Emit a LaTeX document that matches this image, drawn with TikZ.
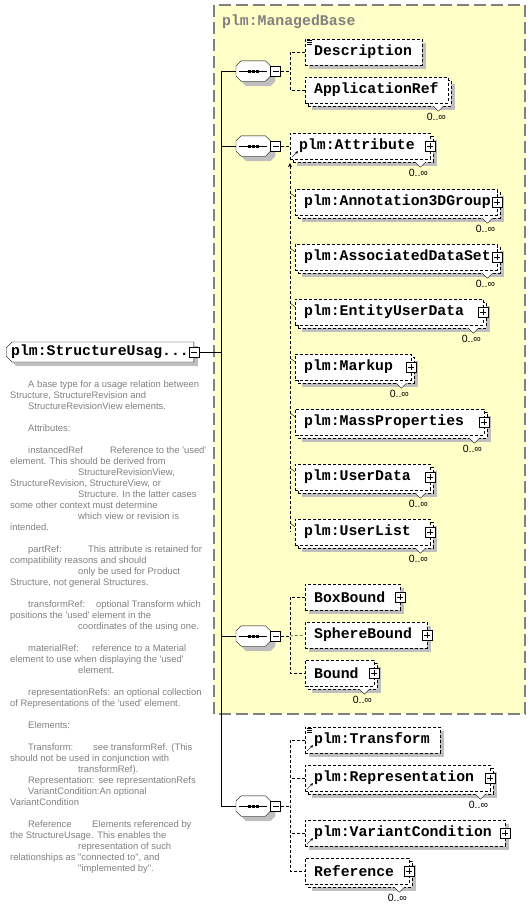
\documentclass[tikz,border=0pt]{standalone}
\usepackage{fontspec}
\newfontfamily\docfont{Liberation Sans}
\newfontfamily\lblfont{Liberation Mono}
\usetikzlibrary{positioning, shapes.misc, shadows, arrows.meta}

\definecolor{basefill}{RGB}{255,255,200}
\definecolor{docgray}{RGB}{128,128,128}

\tikzset{
  lbl/.style={font=\lblfont\bfseries\fontsize{14.8}{16}\selectfont},
  occ/.style={font=\docfont\fontsize{10.5}{12}\selectfont, inner sep=0},
  conn/.style={dash pattern=on 3pt off 2pt},
  basebox/.style={draw=docgray, fill=basefill, line width=1.2pt, dash pattern=on 12pt off 5pt},
  shade4/.style={drop shadow={shadow xshift=#1, shadow yshift=-#1, fill=gray!50, opacity=1}},
  elem/.style={lbl, draw, fill=white, dash pattern=on 3pt off 2pt, minimum width=#1, minimum height=26,
    text width=#1-18, align=left, inner xsep=9, inner ysep=0, anchor=west, shade4=4pt},
  multi/.style={lbl, draw, fill=white, dash pattern=on 3pt off 2pt, minimum width=#1, minimum height=26,
    text width=#1-18, align=left, inner xsep=9, inner ysep=0, anchor=west, shade4=7pt,
    general shadow={shadow xshift=3pt, shadow yshift=-3pt, fill=white, draw=black, dash pattern=on 3pt off 2pt}},
  pmbox/.style={draw, solid, fill=white, minimum size=10, inner sep=0},
  minusbox/.style={pmbox, path picture={
    \draw ([xshift=2pt]path picture bounding box.west) -- ([xshift=-2pt]path picture bounding box.east);}},
  plusbox/.style={pmbox, path picture={
    \draw ([xshift=2pt]path picture bounding box.west) -- ([xshift=-2pt]path picture bounding box.east)
          ([yshift=-2pt]path picture bounding box.north) -- ([yshift=2pt]path picture bounding box.south);}},
  seq/.style={rectangle, minimum width=34, minimum height=20, inner sep=0, anchor=west},
  refarr/.style={solid, -{Stealth[length=3pt,width=3pt]}}
}

\begin{document}
\begin{tikzpicture}[x=1pt, y=-1pt]
\useasboundingbox (0,0) rectangle (530,906);

% frame of the base type
\draw[basebox] (214,5) rectangle (525,714);
\node[lbl, text=docgray, anchor=base west, inner sep=0] (mbase) at (222,25) {plm:ManagedBase};

% the complex type itself
\node[lbl, chamfered rectangle, chamfered rectangle corners={north west, south west}, chamfered rectangle sep=3pt,
      draw, fill=white, anchor=west, minimum height=20, inner xsep=2, inner ysep=0, shade4=4pt]
      (main) at (6,352) {plm:StructureUsag...\hspace{10pt}};
\node[minusbox] (main-m) at (main.east) {};

% sequences
\node[seq] (s1) at (236,71) {};
\node[seq] (s2) at (236,146) {};
\node[seq] (s3) at (236,636) {};
\node[seq] (s4) at (236,806) {};
\foreach \s in {s1,s2,s3,s4} {
  \draw[fill=white, shade4=5pt] ([xshift=5pt]\s.north west) -- ([xshift=-5pt]\s.north east)
    -- ([yshift=-5pt]\s.north east) -- ([yshift=5pt]\s.south east) -- ([xshift=-5pt]\s.south east)
    -- ([xshift=5pt]\s.south west) -- ([yshift=5pt]\s.south west) -- ([yshift=-5pt]\s.north west) -- cycle;
  \node[minusbox, anchor=west] (\s-m) at (\s.east) {};
  \draw ([xshift=3pt]\s.west) -- ([xshift=-3pt]\s.east);
  \foreach \d in {-4,0,4}
    \fill ([xshift=\d pt]\s.center) +(-1.5,-1.5) rectangle +(1.5,1.5);
}

\coordinate (spine) at (221,0);
\draw (s1.west) -- (s1.west -| spine) |- (s4.west);
\draw (s2.west) -- (s2.west -| spine);
\draw (s3.west) -- (s3.west -| spine);
\draw (main-m.east) -- (main-m.east -| spine);

% first sequence
\node[elem=117] (desc) at (305,52) {Description};
\node[multi=143] (appref) at (305,90) {ApplicationRef};
\coordinate (b1) at (290,71);
\draw[conn] (s1-m.east) -- (b1);
\draw[conn] (desc.west) -| (b1) |- (appref.west);

% second sequence
\node[multi=140] (attr) at (290,146) {plm:Attribute};
\draw[conn] (s2-m.east) -- (attr.west);
\node[multi=202] (a3d) at (295,202) {plm:Annotation3DGroup};
\node[multi=202] (ads) at (295,257) {plm:AssociatedDataSet};
\node[multi=188] (eud) at (295,312) {plm:EntityUserData};
\node[multi=116] (markup) at (295,367) {plm:Markup};
\node[multi=189] (massp) at (295,422) {plm:MassProperties};
\node[multi=135] (udata) at (295,477) {plm:UserData};
\node[multi=135] (ulist) at (295,532) {plm:UserList};
\draw[conn, {Stealth[length=4pt,width=4pt]}-] ([yshift=-4pt]attr.south west) -- (attr.south west |- ulist.west);
\foreach \n in {a3d,ads,eud,markup,massp,udata,ulist}
  \draw ([shift={(-4,5)}]\n.north west) -- ([shift={(0,8)}]\n.north west);

% third sequence
\node[elem=95] (boxb) at (305,597) {BoxBound};
\node[elem=122] (sphb) at (305,635) {SphereBound};
\node[multi=69] (bound) at (305,673) {Bound};
\coordinate (b3) at (290,636);
\draw[conn] (s3-m.east) -- (b3);
\draw[conn] (boxb.west) -| (b3) |- (bound.west);
\draw[conn] (b3) -- (sphb.west);

% fourth sequence
\node[elem=135] (trans) at (305,740) {plm:Transform};
\node[multi=185] (repr) at (305,778) {plm:Representation};
\node[elem=200] (varc) at (305,833) {plm:VariantCondition};
\node[multi=104] (refr) at (305,871) {Reference};
\coordinate (b4) at (290,806);
\draw[conn] (s4-m.east) -- (b4);
\draw[conn] (trans.west) -| (b4) |- (refr.west);
\draw[conn] (repr.west) -- (repr.west -| b4);
\draw[conn] (varc.west) -- (varc.west -| b4);

% occurrence marks
\foreach \n in {appref,attr,a3d,ads,eud,markup,massp,udata,ulist,bound,repr,refr} {
  \draw[fill=white] ([shift={(-15,3)}]\n.south east) -- ([shift={(-10,8)}]\n.south east) -- ([shift={(-5,3)}]\n.south east);
  \node[occ] (\n-o) at ([shift={(-12,14)}]\n.south east) {0..∞};
}

% expand boxes, references, documentation
\foreach \n in {attr,a3d,ads,eud,markup,massp,udata,ulist,boxb,sphb,bound,repr,varc,refr}
  \node[plusbox] (\n-p) at (\n.east) {};
\foreach \n in {attr,trans,repr,varc}
  \draw[refarr] ([shift={(2,-2)}]\n.south west) -- ([shift={(8,-8)}]\n.south west);
\foreach \n in {desc,trans}
  \foreach \d in {2,4,6}
    \draw[line width=0.8pt] ([shift={(2,\d)}]\n.north west) -- ([shift={(7,\d)}]\n.north west);

% annotation
\node[font=\docfont\fontsize{9.4}{11}\selectfont, text=docgray, align=left, inner sep=0, anchor=north west] (doc) at (10,380) {%
\hspace*{18pt}A base type for a usage relation between\\
Structure, StructureRevision and\\
\hspace*{18pt}StructureRevisionView elements.\\[11pt]
\hspace*{18pt}Attributes:\\[11pt]
\hspace*{18pt}\makebox[82pt][l]{instancedRef}Reference to the 'used'\\
element. This should be derived from\\
\hspace*{68pt}StructureRevisionView,\\
StructureRevision, StructureView, or\\
\hspace*{68pt}Structure. In the latter cases\\
some other context must determine\\
\hspace*{68pt}which view or revision is\\
intended.\\[11pt]
\hspace*{18pt}\makebox[60pt][l]{partRef:}This attribute is retained for\\
compatibility reasons and should\\
\hspace*{68pt}only be used for Product\\
Structure, not general Structures.\\[11pt]
\hspace*{18pt}\makebox[68pt][l]{transformRef:}optional Transform which\\
positions the 'used' element in the\\
\hspace*{68pt}coordinates of the using one.\\[11pt]
\hspace*{18pt}\makebox[64pt][l]{materialRef:}reference to a Material\\
element to use when displaying the 'used'\\
\hspace*{68pt}element.\\[11pt]
\hspace*{18pt}representationRefs: an optional collection\\
of Representations of the 'used' element.\\[11pt]
\hspace*{18pt}Elements:\\[11pt]
\hspace*{18pt}\makebox[65pt][l]{Transform:}see transformRef. (This\\
should not be used in conjunction with\\
\hspace*{68pt}transformRef).\\
\hspace*{18pt}Representation:\hspace{4pt}see representationRefs\\
\hspace*{18pt}VariantCondition:An optional\\
VariantCondition\\[11pt]
\hspace*{18pt}\makebox[64pt][l]{Reference}Elements referenced by\\
the StructureUsage. This enables the\\
\hspace*{68pt}representation of such\\
relationships as "connected to", and\\
\hspace*{68pt}"implemented by".};
\end{tikzpicture}
\end{document}
